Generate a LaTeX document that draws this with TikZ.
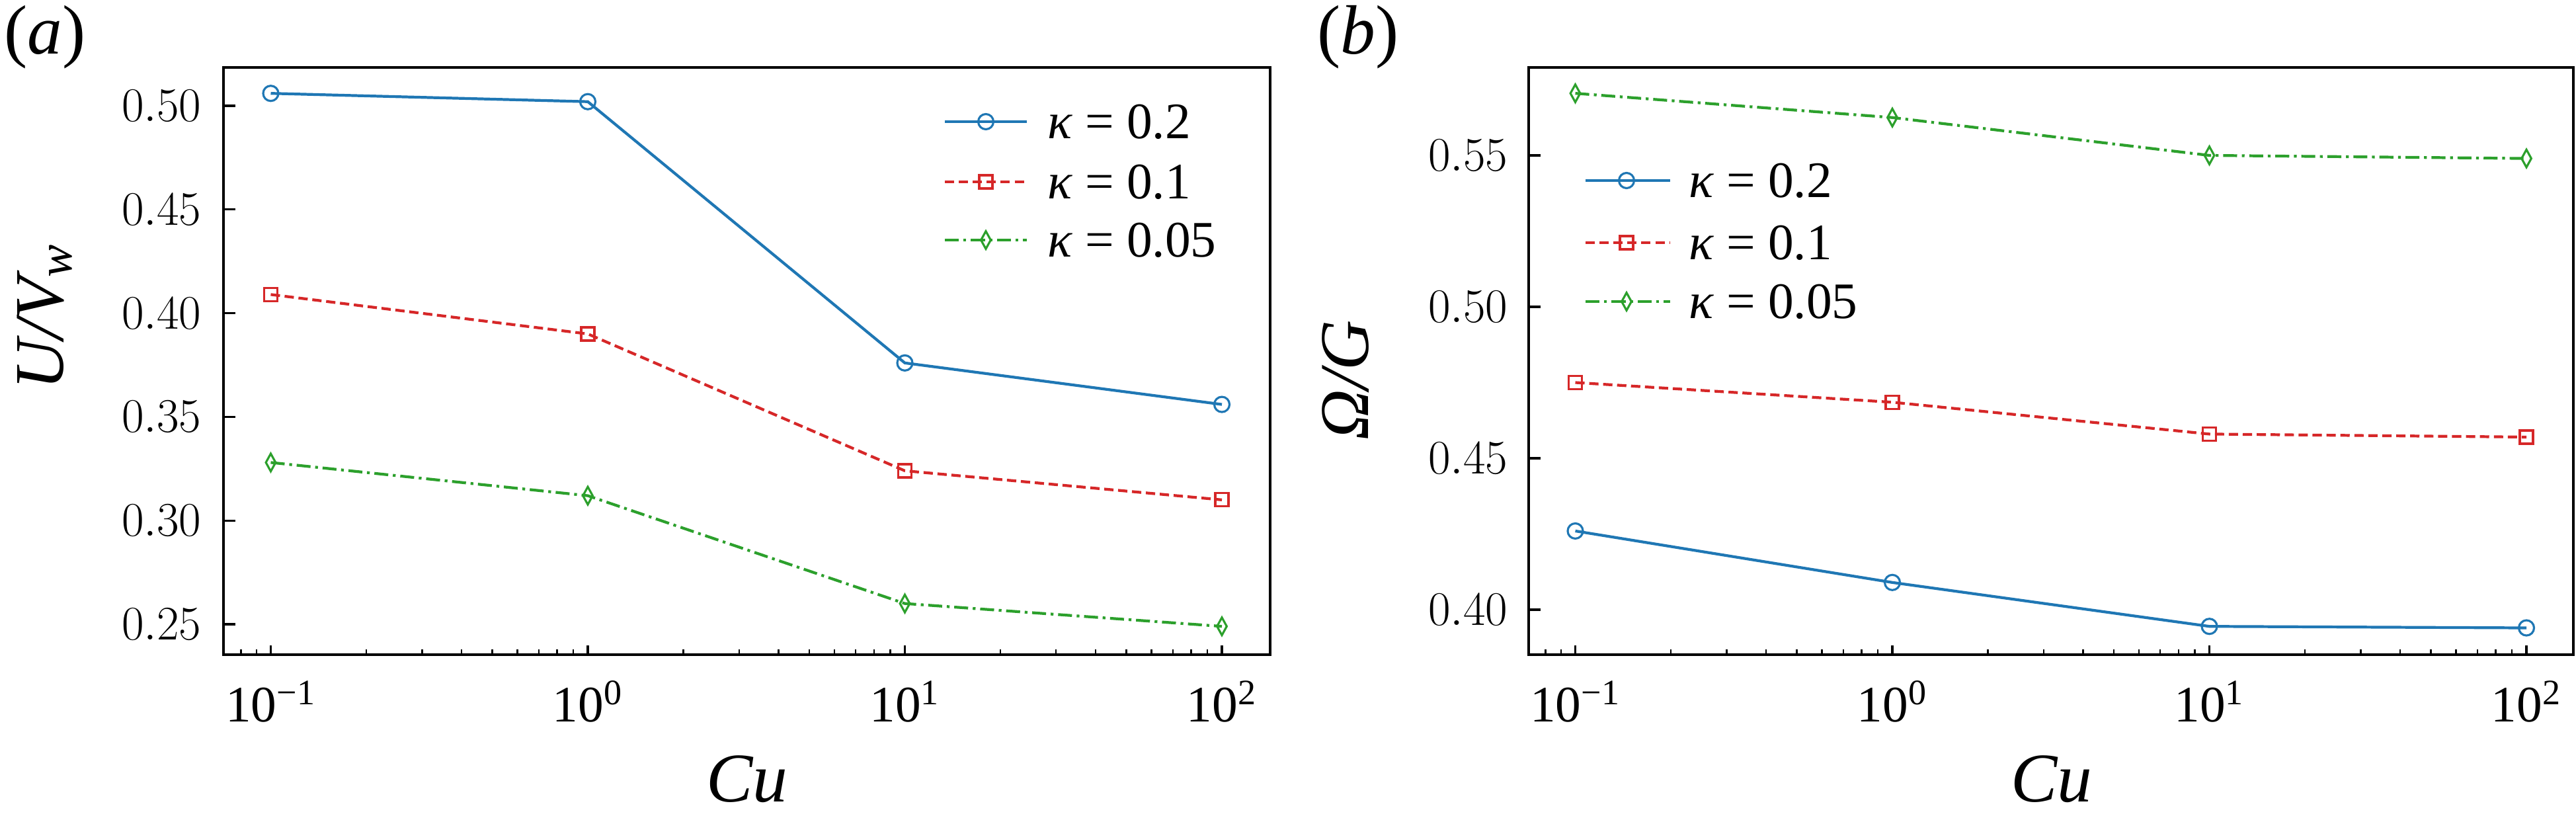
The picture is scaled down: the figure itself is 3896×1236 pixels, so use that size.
\documentclass[tikz,border=0pt]{standalone}
\usepackage{fontspec}
\setmainfont{Liberation Serif}
\newfontfamily\plotfont{Liberation Serif}
\usetikzlibrary{positioning,shapes.geometric}
\definecolor{cblue}{RGB}{31,119,180}
\definecolor{cred}{RGB}{214,39,40}
\definecolor{cgreen}{RGB}{44,160,44}
\begin{document}
\begin{tikzpicture}[x=0.01cm,y=-0.01cm,
  declare function={xa(\l)=889+479.5*\l; ya(\v)=160+(0.50-\v)*3136;
                    xb(\l)=2862+479.5*\l; yb(\v)=235+(0.55-\v)*4580;}]
\tikzset{
  tick/.style={font=\plotfont\fontsize{22}{22}\selectfont, inner sep=0pt},
  axlab/.style={font=\plotfont\fontsize{30}{30}\selectfont\itshape, inner sep=0pt},
  blueline/.style={cblue, line width=1.2pt},
  redline/.style={cred, line width=1.2pt, dash pattern=on 4pt off 2pt},
  greenline/.style={cgreen, line width=1.2pt, dash pattern=on 6pt off 2pt on 1.2pt off 2pt},
  circ/.style={draw=cblue, line width=0.9pt, circle, minimum size=0.23cm, inner sep=0pt},
  sq/.style={draw=cred, line width=0.9pt, rectangle, minimum size=0.2cm, inner sep=0pt},
  dia/.style={draw=cgreen, line width=0.9pt, diamond, minimum width=0.16cm, minimum height=0.28cm, inner sep=0pt},
  frame/.style={line width=1.2pt},
}
\useasboundingbox (0,0) rectangle (3896,1236);

%%% Panel (a)
\draw[frame] (338,102) rectangle (1921,990);
\foreach \l in {-1,0,1,2} {
  \draw[line width=0.9pt] ({xa(\l)},990) -- ({xa(\l)},976);
  \node[tick] at ({xa(\l)},1061) {10\textsuperscript{\pgfmathparse{int(\l)}\ifnum\pgfmathresult<0 −1\else\pgfmathresult\fi}};
}
\foreach \m in {0.08,0.09,0.2,0.3,0.4,0.5,0.6,0.7,0.8,0.9,2,3,4,5,6,7,8,9,20,30,40,50,60,70,80,90}
  \draw[line width=0.7pt] ({xa(log10(\m))},990) -- ({xa(log10(\m))},982);
\foreach \v in {0.25,0.30,0.35,0.40,0.45,0.50} {
  \draw[line width=0.9pt] (338,{ya(\v)}) -- (356,{ya(\v)});
  \node[tick, anchor=east] at (305,{ya(\v)}) {\pgfmathprintnumber[fixed,precision=2,fixed zerofill]{\v}};
}
\foreach \va/\vb/\vc/\vd/\sty/\mk in {0.506/0.502/0.376/0.356/blueline/circ,
    0.409/0.390/0.324/0.310/redline/sq, 0.328/0.312/0.260/0.249/greenline/dia} {
  \draw[\sty] ({xa(-1)},{ya(\va)}) -- ({xa(0)},{ya(\vb)}) -- ({xa(1)},{ya(\vc)}) -- ({xa(2)},{ya(\vd)});
  \foreach \l/\v in {-1/\va,0/\vb,1/\vc,2/\vd}
    \node[\mk] at ({xa(\l)},{ya(\v)}) {};
}
% legend
\foreach \row/\sty/\mk/\lab in {184/blueline/circ/0.2, 275/redline/sq/0.1, 363/greenline/dia/0.05} {
  \draw[\sty] (1429,\row) -- (1553,\row);
  \node[\mk] at (1491,\row) {};
  \node[tick, anchor=west] at (1584,\row) {{\itshape κ} = \lab};
}
\node[axlab] (labA) at (68,56) {\upshape(\textit{a})};
\node[axlab, rotate=90] (ylabA) at (68,479) {U/V\textsubscript{w}};
\node[axlab] (xlabA) at (1130,1178) {Cu};

%%% Panel (b)
\draw[frame] (2312,102) rectangle (3892,990);
\foreach \l in {-1,0,1,2} {
  \draw[line width=0.9pt] ({xb(\l)},990) -- ({xb(\l)},976);
  \node[tick] at ({xb(\l)},1061) {10\textsuperscript{\pgfmathparse{int(\l)}\ifnum\pgfmathresult<0 −1\else\pgfmathresult\fi}};
}
\foreach \m in {0.08,0.09,0.2,0.3,0.4,0.5,0.6,0.7,0.8,0.9,2,3,4,5,6,7,8,9,20,30,40,50,60,70,80,90}
  \draw[line width=0.7pt] ({xb(log10(\m))},990) -- ({xb(log10(\m))},982);
\foreach \v in {0.40,0.45,0.50,0.55} {
  \draw[line width=0.9pt] (2312,{yb(\v)}) -- (2330,{yb(\v)});
  \node[tick, anchor=east] at (2281,{yb(\v)}) {\pgfmathprintnumber[fixed,precision=2,fixed zerofill]{\v}};
}
\foreach \va/\vb/\vc/\vd/\sty/\mk in {0.426/0.409/0.3945/0.394/blueline/circ,
    0.475/0.4685/0.458/0.457/redline/sq, 0.5705/0.5625/0.550/0.549/greenline/dia} {
  \draw[\sty] ({xb(-1)},{yb(\va)}) -- ({xb(0)},{yb(\vb)}) -- ({xb(1)},{yb(\vc)}) -- ({xb(2)},{yb(\vd)});
  \foreach \l/\v in {-1/\va,0/\vb,1/\vc,2/\vd}
    \node[\mk] at ({xb(\l)},{yb(\v)}) {};
}
% legend
\foreach \row/\sty/\mk/\lab in {273/blueline/circ/0.2, 367/redline/sq/0.1, 456/greenline/dia/0.05} {
  \draw[\sty] (2398,\row) -- (2526,\row);
  \node[\mk] at (2460,\row) {};
  \node[tick, anchor=west] at (2554,\row) {{\itshape κ} = \lab};
}
\node[axlab] (labB) at (2054,56) {\upshape(\textit{b})};
\node[axlab, rotate=90] (ylabB) at (2035,575) {Ω/G};
\node[axlab] (xlabB) at (3103,1178) {Cu};
\end{tikzpicture}
\end{document}
